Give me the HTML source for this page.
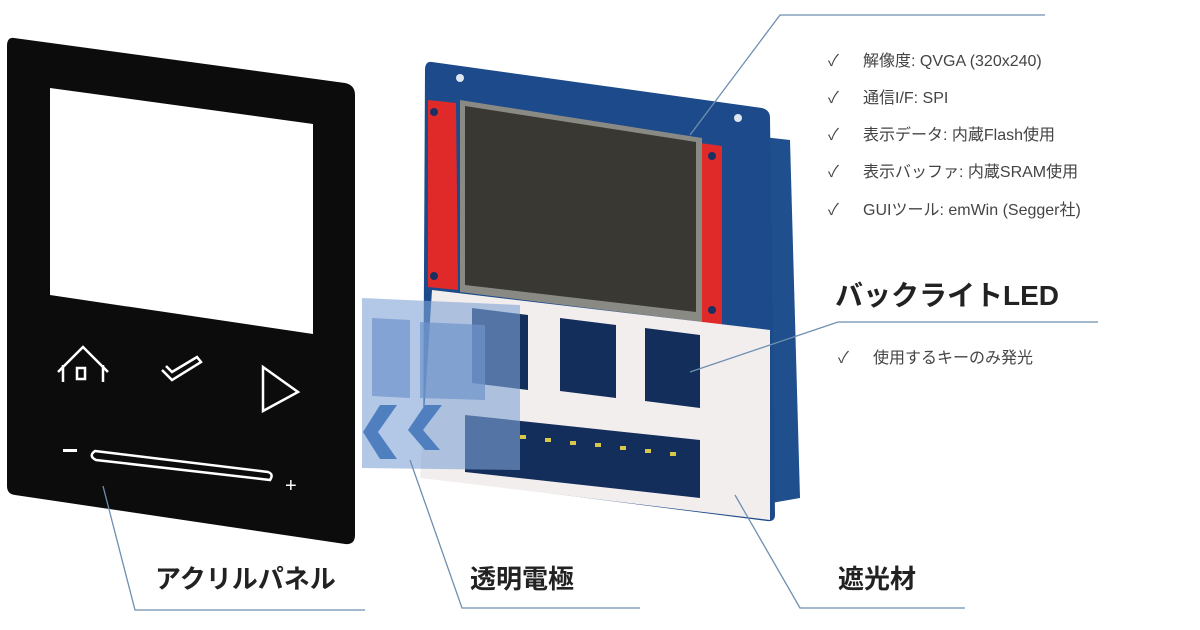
<!DOCTYPE html>
<html><head><meta charset="utf-8">
<style>
html,body{margin:0;padding:0;background:#fff;}
svg{display:block;}
text{font-family:"Liberation Sans","Noto Sans CJK JP",sans-serif;}
</style></head>
<body>
<svg width="1200" height="630" viewBox="0 0 1200 630" xmlns="http://www.w3.org/2000/svg">
<rect width="1200" height="630" fill="#fff"/>
<!-- back board -->
<polygon points="745,135 790,140 800,498 760,505" fill="#1f4f8c"/>
<!-- main PCB -->
<path d="M432,62 L762,108 Q770,110 770,118 L775,515 Q775,522 767,521 L430,478 Q423,477 423,470 L425,70 Q425,61 432,62 Z" fill="#1d4a8a"/>
<circle cx="460" cy="78" r="4" fill="#dfe6f0"/>
<circle cx="738" cy="118" r="4" fill="#dfe6f0"/>
<!-- red strips -->
<polygon points="428,100 456,103 458,290 428,287" fill="#e02a2a"/>
<polygon points="700,143 722,146 722,325 700,322" fill="#e02a2a"/>
<circle cx="434" cy="112" r="4" fill="#1a3060"/><circle cx="434" cy="276" r="4" fill="#1a3060"/>
<circle cx="712" cy="156" r="4" fill="#1a3060"/><circle cx="712" cy="310" r="4" fill="#1a3060"/>
<!-- LCD -->
<polygon points="460,100 702,138 702,322 460,292" fill="#8a8a85"/>
<polygon points="465,106 696,142 696,312 465,285" fill="#3a3833"/>
<!-- shading sheet -->
<polygon points="432,290 770,330 770,520 420,478" fill="#f3eeee"/>
<g fill="#142e5c">
<polygon points="472,308 528,315 528,390 472,383"/>
<polygon points="560,318 616,325 616,398 560,391"/>
<polygon points="645,328 700,335 700,408 645,401"/>
<polygon points="465,415 700,440 700,498 465,472"/>
</g>
<g fill="#d9c74a">
<rect x="520" y="435" width="6" height="4"/><rect x="545" y="438" width="6" height="4"/><rect x="570" y="441" width="6" height="4"/><rect x="595" y="443" width="6" height="4"/><rect x="620" y="446" width="6" height="4"/><rect x="645" y="449" width="6" height="4"/><rect x="670" y="452" width="6" height="4"/>
</g>
<!-- transparent electrode -->
<polygon points="362,298 520,305 520,470 362,468" fill="#7ea3d6" opacity="0.6"/>
<polygon points="372,318 410,320 410,398 372,396" fill="#6d93cb" opacity="0.7"/>
<polygon points="420,322 485,325 485,400 420,398" fill="#6d93cb" opacity="0.7"/>
<polygon points="380,405 397,405 378,432 397,459 380,459 363,432" fill="#4f7fbf"/>
<polygon points="425,405 442,405 423,430 440,450 425,450 408,430" fill="#4f7fbf"/>
<!-- acrylic panel -->
<path d="M14,38 L345,83 Q355,85 355,95 L355,535 Q355,545 345,544 L15,495 Q7,494 7,486 L7,46 Q7,37 14,38 Z" fill="#0c0c0c"/>
<polygon points="50,88 313,124 313,334 50,295" fill="#fff"/>
<g fill="none" stroke="#fff" stroke-width="2.5">
<polyline points="58,372 83,347 108,372"/>
<polyline points="63,365 63,382"/><polyline points="103,365 103,382"/>
<rect x="77" y="368" width="8" height="11"/>
<polyline points="162,370 172,380 201,362 197,357 172,372 166,366 Z"/>
<polygon points="263,367 298,392 263,411"/>
<path d="M95,451 L268,472 Q274,474 270,480 L96,460 Q88,456 95,451 Z"/>
</g>
<rect x="63" y="449" width="14" height="3" fill="#fff"/>
<text x="285" y="492" fill="#fff" font-size="20">+</text>
<!-- leader lines -->
<g stroke="#6f8fb0" stroke-width="1.3" fill="none">
<polyline points="103,486 135,610 365,610"/>
<polyline points="410,460 462,608 640,608"/>
<polyline points="735,495 800,608 965,608"/>
<polyline points="690,135 780,15 1045,15"/>
<polyline points="690,372 838,322 1098,322"/>
</g>
<!-- labels -->
<g font-weight="bold" fill="#222">
<text x="155" y="588" font-size="26">アクリルパネル</text>
<text x="470" y="588" font-size="26">透明電極</text>
<text x="838" y="588" font-size="26">遮光材</text>
<text x="835" y="305" font-size="28">バックライトLED</text>
</g>
<g fill="#444" font-size="16">
<text x="828" y="66">✓</text><text x="863" y="66">解像度: QVGA (320x240)</text>
<text x="828" y="103">✓</text><text x="863" y="103">通信I/F: SPI</text>
<text x="828" y="140">✓</text><text x="863" y="140">表示データ: 内蔵Flash使用</text>
<text x="828" y="177">✓</text><text x="863" y="177">表示バッファ: 内蔵SRAM使用</text>
<text x="828" y="215">✓</text><text x="863" y="215">GUIツール: emWin (Segger社)</text>
<text x="838" y="363">✓</text><text x="873" y="363">使用するキーのみ発光</text>
</g>
</svg>
</body></html>
